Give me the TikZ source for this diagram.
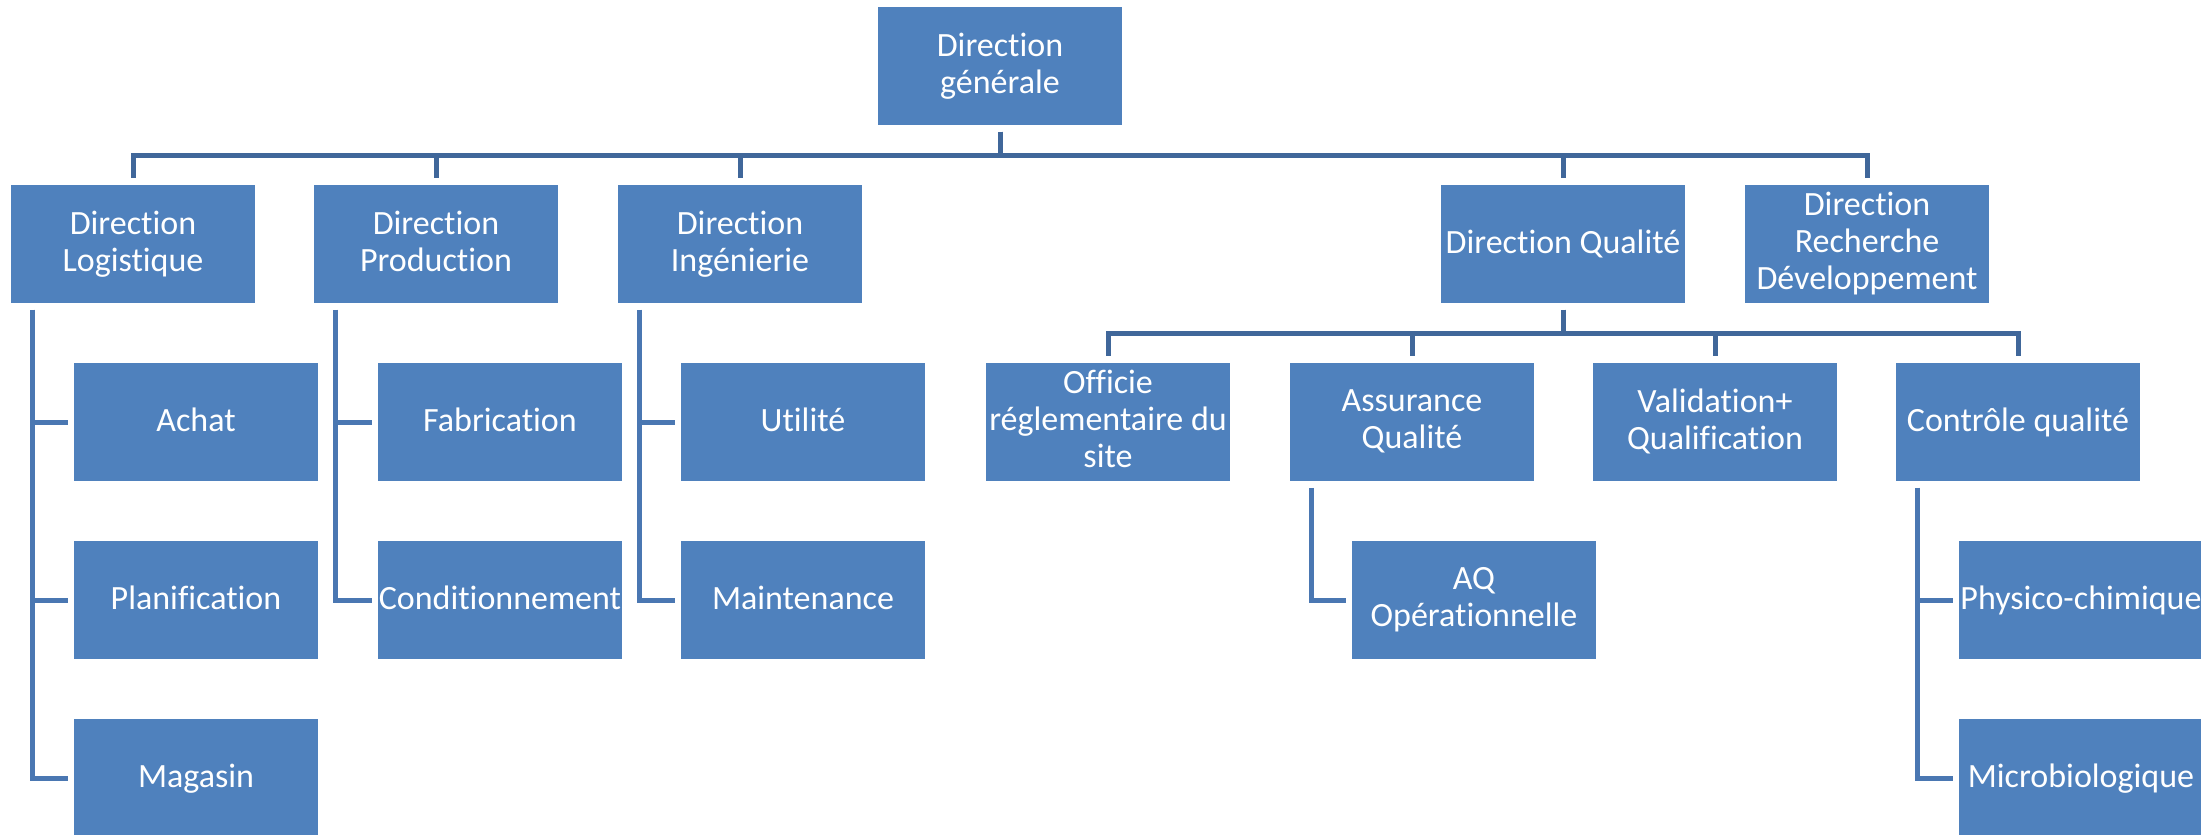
\documentclass[tikz,border=0pt]{standalone}
\usepackage{fontspec}
\setmainfont[Ligatures=NoCommon]{Carlito}
\definecolor{boxblue}{RGB}{79,129,189}
\definecolor{barblue}{RGB}{64,103,154}
\definecolor{sideblue}{RGB}{74,119,178}
\tikzset{
  orgbox/.style={rectangle, fill=boxblue, draw=white, line width=1.5pt,
    minimum width=246pt, minimum height=120pt, inner sep=0pt,
    text=white, align=center, font=\fontsize{34pt}{37pt}\selectfont,
    execute at begin node={\rule{0pt}{25pt}}, execute at end node={\rule[-6pt]{0pt}{6pt}}},
  barline/.style={draw=barblue, line width=5pt},
  sideline/.style={draw=sideblue, line width=5pt},
}
\begin{document}
\begin{tikzpicture}[x=1pt,y=-1pt]
\clip (0,0) rectangle (2201,835);
\fill[white] (0,0) rectangle (2201,835);
% level 0
\node[orgbox] (DG) at (1000,66) {Direction\\générale};
% level 1
\node[orgbox] (Log) at (133,244) {Direction\\Logistique};
\node[orgbox] (Prod) at (436,244) {Direction\\Production};
\node[orgbox] (Ing) at (740,244) {Direction\\Ingénierie};
\node[orgbox] (Qual) at (1563,244) {Direction Qualité};
\node[orgbox] (RD) at (1867,244) {Direction\\Recherche\\Développement};
% logistique children
\node[orgbox] (Ach) at (196,422) {Achat};
\node[orgbox] (Plan) at (196,600) {Planification};
\node[orgbox] (Mag) at (196,778) {Magasin};
% production children
\node[orgbox] (Fab) at (500,422) {Fabrication};
\node[orgbox] (Cond) at (500,600) {Conditionnement};
% ingenierie children
\node[orgbox] (Util) at (803,422) {Utilité};
\node[orgbox] (Maint) at (803,600) {Maintenance};
% qualite children
\node[orgbox] (Off) at (1108,422) {Officie\\réglementaire du\\site};
\node[orgbox] (AQ) at (1412,422) {Assurance\\Qualité};
\node[orgbox] (Val) at (1715,422) {Validation+\\Qualification};
\node[orgbox] (CQ) at (2018,422) {Contrôle qualité};
% sub children
\node[orgbox] (AQO) at (1474,600) {AQ\\Opérationnelle};
\node[orgbox] (PC) at (2081,600) {Physico-chimique};
\node[orgbox] (Micro) at (2081,778) {Microbiologique};
% bar coordinates
\coordinate (bar1) at (0,155);
\coordinate (bar2) at (0,333);
% top-level connectors
\foreach \c in {Log,Prod,Ing,Qual,RD}{
  \draw[barline] ([yshift=-5pt]DG.south) -- (DG.south |- bar1) -| ([yshift=5pt]\c.north);
}
% quality connectors
\foreach \c in {Off,AQ,Val,CQ}{
  \draw[barline] ([yshift=-5pt]Qual.south) -- (Qual.south |- bar2) -| ([yshift=5pt]\c.north);
}
% side connectors
\foreach \p/\c in {Log/Ach,Log/Plan,Log/Mag,Prod/Fab,Prod/Cond,Ing/Util,Ing/Maint,AQ/AQO,CQ/PC,CQ/Micro}{
  \draw[sideline] ([xshift=23pt,yshift=-5pt]\p.south west) |- ([xshift=-4pt]\c.west);
}
\end{tikzpicture}
\end{document}
